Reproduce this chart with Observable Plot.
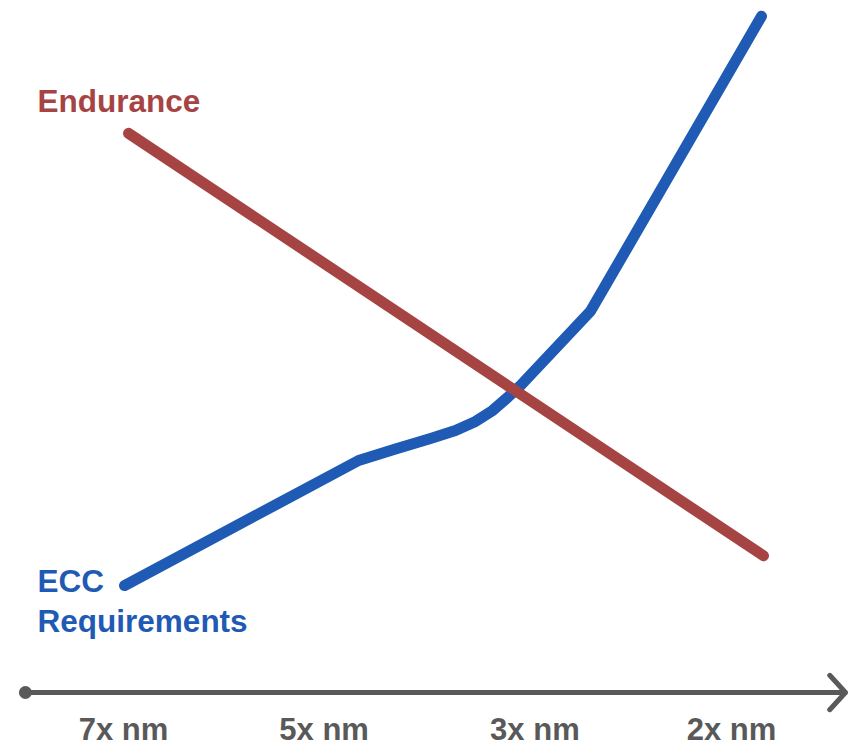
<!DOCTYPE html>
<html>
<head>
<meta charset="utf-8">
<script src="https://cdn.jsdelivr.net/npm/d3@7"></script>
<script src="https://cdn.jsdelivr.net/npm/@observablehq/plot@0.6"></script>
<style>
  html, body { margin: 0; padding: 0; background: #fff; }
  #chart svg { display: block; }
</style>
</head>
<body>
<div id="chart"></div>
<script>
// Node categories (x positions in "generation step" units)
const categories = ["7x nm", "5x nm", "3x nm", "2x nm"];
const categoryPos = [0, 0.99, 2.03, 3];

// Endurance series (relative level, 0–100)
const enduranceX = [0.025, 3.158];
const enduranceY = [82.6, 20.2];

// ECC requirements series (relative level, 0–100)
const eccX = [0.005, 1.16, 1.342, 1.515, 1.638, 1.737, 1.821, 1.895, 1.959, 2.304, 3.148];
const eccY = [15.8, 34.27, 35.97, 37.52, 38.7, 40.03, 41.65, 43.57, 45.35, 56.3, 99.9];

// Series labels
const seriesLabels = [
  {text: "Endurance", x: -0.424, y: 85.7, color: "#A64444"},
  {text: "ECC\nRequirements", x: -0.424, y: 8.9, color: "#1F5BB4"}
];

// Axis extent (arrow from start to end)
const axisExtent = [{from: -0.484, to: 3.5625, y: 0}];

const endurance = enduranceX.map((x, i) => ({x, y: enduranceY[i]}));
const ecc = eccX.map((x, i) => ({x, y: eccY[i]}));
const ticks = categories.map((c, i) => ({label: c, x: categoryPos[i], y: 0}));

const chart = Plot.plot({
  width: 849,
  height: 745,
  margin: 0,
  x: {domain: [0, 3], range: [123, 731], axis: null},
  y: {domain: [0, 100], range: [692, 15], axis: null},
  style: {fontFamily: "'Liberation Sans', Arial, sans-serif", background: "#fff", overflow: "visible"},
  marks: [
    Plot.arrow(axisExtent, {
      x1: "from", x2: "to", y1: "y", y2: "y",
      stroke: "#595959", strokeWidth: 5, headLength: 7, headAngle: 95
    }),
    Plot.dot(axisExtent, {x: "from", y: "y", r: 6.5, fill: "#595959", stroke: null}),
    Plot.text(ticks, {
      x: "x", y: "y", text: "label", dy: 47, lineAnchor: "bottom",
      fontSize: 31, fontWeight: "bold", fill: "#595959"
    }),
    Plot.line(ecc, {x: "x", y: "y", stroke: "#1F5BB4", strokeWidth: 11, strokeLinecap: "round", strokeLinejoin: "round", curve: "linear"}),
    Plot.line(endurance, {x: "x", y: "y", stroke: "#A64444", strokeWidth: 11, strokeLinecap: "round"}),
    Plot.text(seriesLabels, {
      x: "x", y: "y", text: "text", fill: "color", textAnchor: "start", lineAnchor: "bottom",
      lineHeight: 1.29, fontSize: 31.5, fontWeight: "bold"
    })
  ]
});
document.getElementById("chart").appendChild(chart);
</script>
</body>
</html>
